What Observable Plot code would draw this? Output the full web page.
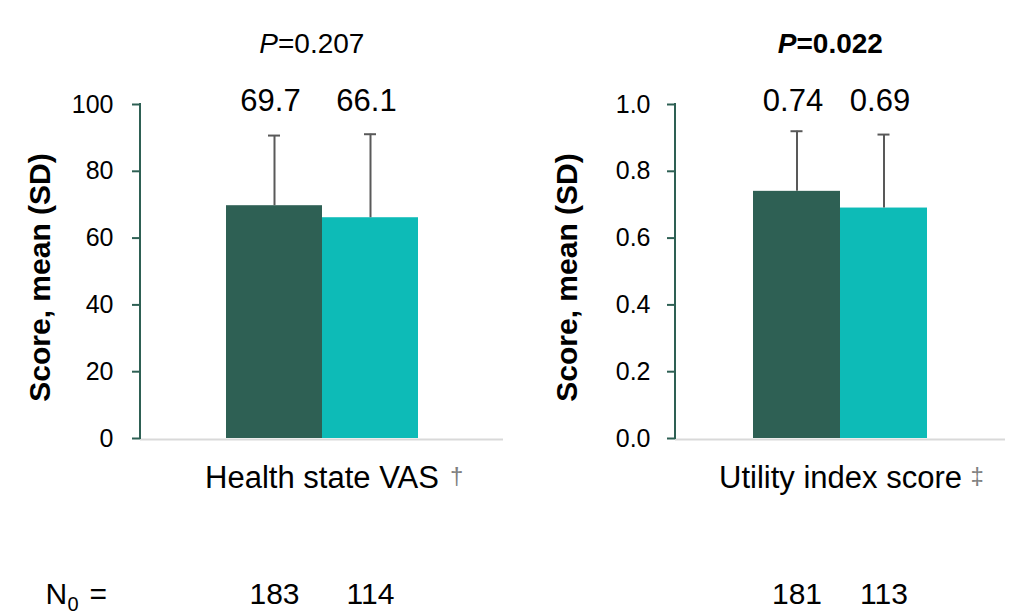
<!DOCTYPE html>
<html><head><meta charset="utf-8">
<script src="https://cdn.jsdelivr.net/npm/d3@7"></script>
<script src="https://cdn.jsdelivr.net/npm/@observablehq/plot@0.6"></script>
<style>
body{margin:0;background:#fff;}
#chart{display:flex;width:1013px;height:613px;overflow:hidden;}
#chart svg{display:block;}
</style></head><body><div id="chart"></div>
<script>
// ---- data ----
const groups = ["Group 1", "Group 2"];
const colors = ["#2E6054", "#0DBBB7"];
const categories = ["Health state VAS", "Utility index score"];
const footnotes = ["\u2020", "\u2021"];
const pValues = ["=0.207", "=0.022"];
const pBold = [false, true];
const vasMean = [69.7, 66.1];
const vasSD = [21.0, 25.0];
const utilMean = [0.74, 0.69];
const utilSD = [0.18, 0.22];
const vasN = [183, 114];
const utilN = [181, 113];
const vasTicks = [0, 20, 40, 60, 80, 100];
const utilTicks = [0, 0.2, 0.4, 0.6, 0.8, 1.0];
const yLabel = "Score, mean (SD)";
const nLabelParts = ["N", "0", "="];

const FONT = "'Liberation Sans', Arial, sans-serif";
const AXIS_GREEN = "#2E6054";

function panel(o) {
  const data = groups.map((g, i) => ({group: g, mean: o.mean[i], sd: o.sd[i], n: o.n[i]}));
  const frameW = o.width - o.marginLeft - o.marginRight;
  const marks = [
    Plot.ruleY([0], {stroke: "#d9d9d9", strokeWidth: 2, dy: 1}),
    Plot.barY(data, {x: "group", y: "mean", fill: "group"}),
    Plot.ruleX(data, {x: "group", y1: "mean", y2: d => d.mean + d.sd, stroke: "#595959", strokeWidth: 2}),
    Plot.tickY(data, {x: "group", y: d => d.mean + d.sd, stroke: "#595959", strokeWidth: 2, insetLeft: o.capInset, insetRight: o.capInset}),
    // y-axis ticks (short green rules to the left of the frame)
    Plot.ruleY(o.ticks, {y: d => d, stroke: AXIS_GREEN, strokeWidth: 2, dx: -8, insetRight: frameW - 8}),
    Plot.axisY({ticks: o.ticks, tickSize: 0, tickPadding: o.tickPadding, tickFormat: o.fmtTick, fill: "black", fontSize: 25, label: null}),
    Plot.text([yLabel], {text: d => d, frameAnchor: "left", textAnchor: "middle", rotate: -90, dx: o.labelDx, dy: 6, fontSize: 30, fontWeight: "bold", lineAnchor: "middle", fill: "black"}),
    // P value
    Plot.text(["P"], {text: d => d, frameAnchor: "top", textAnchor: "end", lineAnchor: "bottom", dx: -44, dy: -52, fontSize: 28, fontStyle: "italic", fontWeight: o.bold ? "bold" : "normal", fill: "black"}),
    Plot.text([o.p], {text: d => d, frameAnchor: "top", textAnchor: "start", lineAnchor: "bottom", dx: -44, dy: -52, fontSize: 28, fontWeight: o.bold ? "bold" : "normal", fill: "black"}),
    // value labels
    Plot.text(data, {x: "group", text: d => o.fmtVal(d.mean), frameAnchor: "top", lineAnchor: "bottom", dx: -4, dy: 6, fontSize: 31, fill: "black"}),
    // category label + footnote mark
    Plot.text([o.category], {text: d => d, frameAnchor: "bottom", lineAnchor: "bottom", dy: 49, fontSize: 31, fill: "black"}),
    Plot.text([o.footnote], {text: d => d, frameAnchor: "bottom", textAnchor: "start", lineAnchor: "bottom", dx: o.footDx, dy: 45, fontSize: 24, fill: "#7f7f7f"}),
    // N row
    Plot.text(data, {x: "group", text: d => String(d.n), frameAnchor: "bottom", lineAnchor: "bottom", dy: 165, fontSize: 30, fill: "black"})
  ];
  if (o.withNLabel) {
    marks.push(
      Plot.text([nLabelParts[0]], {text: d => d, frameAnchor: "bottom-left", textAnchor: "start", lineAnchor: "bottom", dx: -95, dy: 165, fontSize: 30, fill: "black"}),
      Plot.text([nLabelParts[1]], {text: d => d, frameAnchor: "bottom-left", textAnchor: "start", lineAnchor: "bottom", dx: -73, dy: 172, fontSize: 20, fill: "black"}),
      Plot.text([nLabelParts[2]], {text: d => d, frameAnchor: "bottom-left", textAnchor: "start", lineAnchor: "bottom", dx: -51, dy: 165, fontSize: 30, fill: "black"})
    );
  }
  const chart = Plot.plot({
    width: o.width, height: 613,
    marginLeft: o.marginLeft, marginRight: o.marginRight, marginTop: 104, marginBottom: 175,
    style: {fontFamily: FONT, background: "white", overflow: "visible"},
    x: {type: "band", domain: groups, paddingInner: 0, paddingOuter: 0.89, axis: null},
    y: {domain: o.domain, axis: null},
    color: {domain: groups, range: colors},
    marks
  });
  // vertical y-axis line, positioned with the plot's own y scale
  const y = chart.scale("y");
  d3.select(chart).append("line")
    .attr("x1", o.marginLeft).attr("x2", o.marginLeft)
    .attr("y1", y.apply(o.domain[0]) + 1).attr("y2", y.apply(o.domain[1]) - 1)
    .attr("stroke", AXIS_GREEN).attr("stroke-width", 2);
  return chart;
}

const left = panel({
  width: 506, marginLeft: 140, marginRight: 3,
  mean: vasMean, sd: vasSD, n: vasN, ticks: vasTicks, domain: [0, 100],
  fmtTick: d3.format("d"), fmtVal: d3.format(".1f"),
  category: categories[0], footnote: footnotes[0], footDx: 128,
  p: pValues[0], bold: pBold[0], tickPadding: 27, labelDx: -100, capInset: 42, withNLabel: true
});
const right = panel({
  width: 507, marginLeft: 169, marginRight: 8,
  mean: utilMean, sd: utilSD, n: utilN, ticks: utilTicks, domain: [0, 1],
  fmtTick: d3.format(".1f"), fmtVal: d3.format(".2f"),
  category: categories[1], footnote: footnotes[1], footDx: 130,
  p: pValues[1], bold: pBold[1], tickPadding: 25, labelDx: -108, capInset: 37.5, withNLabel: false
});
document.getElementById("chart").append(left, right);
</script>
</body></html>
